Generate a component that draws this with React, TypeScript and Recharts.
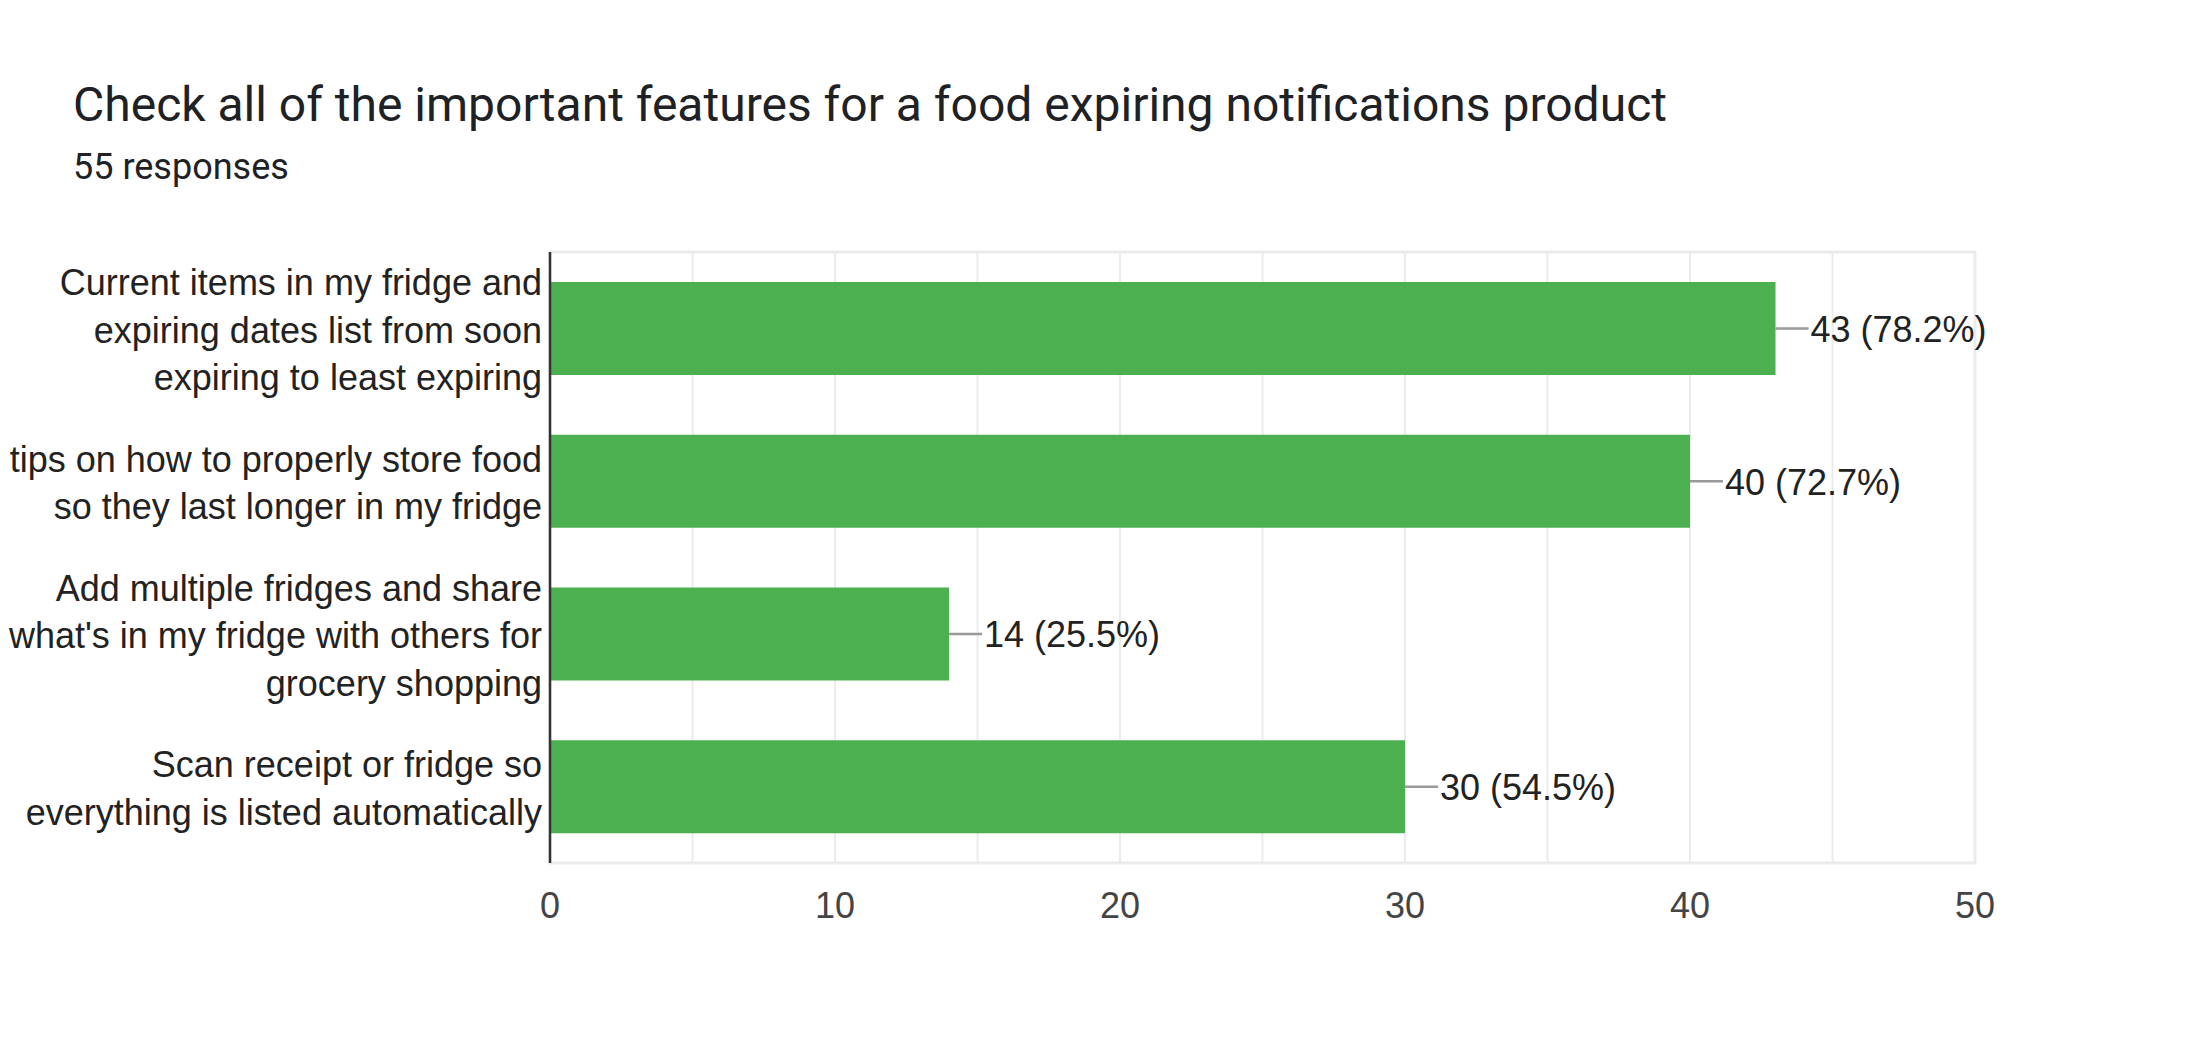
import React from "react";
import { BarChart, Bar, XAxis, YAxis, CartesianGrid, ReferenceLine, ReferenceArea, LabelList } from "recharts";

const TITLE = "Check all of the important features for a food expiring notifications product";
const SUBTITLE = "55 responses";

const categoryLines: string[][] = [
  ["Current items in my fridge and", "expiring dates list from soon", "expiring to least expiring"],
  ["tips on how to properly store food", "so they last longer in my fridge"],
  ["Add multiple fridges and share", "what's in my fridge with others for", "grocery shopping"],
  ["Scan receipt or fridge so", "everything is listed automatically"],
];
const counts = [43, 40, 14, 30];
const percents = ["78.2%", "72.7%", "25.5%", "54.5%"];
const xTicks = [0, 10, 20, 30, 40, 50];
const gridValues = [5, 10, 15, 20, 25, 30, 35, 40, 45];

const data = categoryLines.map((lines, i) => ({
  name: lines.join(" "),
  lines,
  value: counts[i],
  pct: percents[i],
}));

const W = 2196;
const H = 1044;
const LABEL_FONT = "'Liberation Sans', Arial, Helvetica, sans-serif";

const MultiLineTick = (props: any) => {
  const { x, y, payload, index } = props;
  const lines: string[] = categoryLines[index] || [payload.value];
  const lh = 47.5;
  const start = -((lines.length - 1) * lh) / 2;
  return (
    <text x={x} y={y} textAnchor="end" fill="#222222" fontSize={36} fontFamily={LABEL_FONT}>
      {lines.map((l, i) => (
        <tspan key={i} x={x} y={y + start + i * lh} dy="0.4em">
          {l}
        </tspan>
      ))}
    </text>
  );
};

const ValueLabel = (props: any) => {
  const { x, y, width, height, index } = props;
  const endX = Number(x) + Number(width);
  const cy = Number(y) + Number(height) / 2;
  const d = data[index];
  return (
    <g>
      <line x1={endX} y1={cy} x2={endX + 33} y2={cy} stroke="#999999" strokeWidth={2.5} />
      <text x={endX + 35} y={cy} dy="0.37em" fill="#222222" fontSize={36} fontFamily={LABEL_FONT}>
        {`${d.value} (${d.pct})`}
      </text>
    </g>
  );
};

export default function App() {
  return (
    <div style={{ position: "fixed", left: 0, top: 0, width: W, height: H, background: "#ffffff" }}>
      <svg width={W} height={H} style={{ position: "absolute", left: 0, top: 0 }}>
        <text x={73} y={121} fontSize={48} fill="#202124" fontFamily="Roboto, 'Noto Sans', sans-serif">
          {TITLE}
        </text>
        <text x={73} y={179} fontSize={36} fill="#202124" fontFamily="Roboto, 'Noto Sans', sans-serif">
          {SUBTITLE}
        </text>
      </svg>
      <div style={{ position: "absolute", left: 0, top: 0 }}>
        <BarChart
          width={W}
          height={H}
          data={data}
          layout="vertical"
          margin={{ top: 252, right: 221, bottom: 121, left: 0 }}
        >
          <CartesianGrid horizontal={false} verticalValues={gridValues} stroke="#ebebeb" strokeWidth={2} />
          <ReferenceArea x1={0} x2={50} fill="none" stroke="#ebebeb" strokeWidth={3} ifOverflow="visible" />
          <XAxis
            type="number"
            domain={[0, 50]}
            ticks={xTicks}
            tickLine={false}
            axisLine={false}
            height={60}
            tickMargin={23}
            tick={{ fill: "#444444", fontSize: 36, fontFamily: LABEL_FONT }}
            interval={0}
          />
          <YAxis
            type="category"
            dataKey="name"
            width={550}
            tickLine={false}
            axisLine={false}
            tick={<MultiLineTick />}
            interval={0}
          />
          <Bar dataKey="value" fill="#4caf50" barSize={93} isAnimationActive={false}>
            <LabelList dataKey="value" content={<ValueLabel />} />
          </Bar>
          <ReferenceLine x={0} stroke="#333333" strokeWidth={2.5} />
        </BarChart>
      </div>
    </div>
  );
}
